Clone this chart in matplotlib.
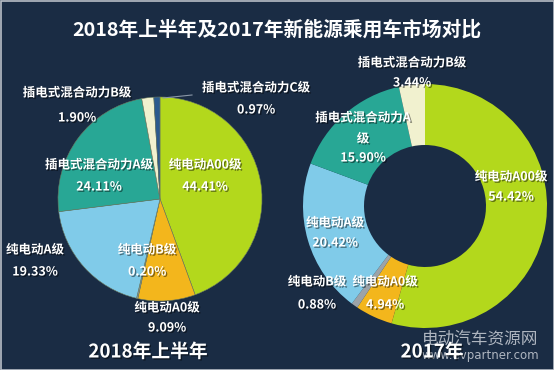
import matplotlib
matplotlib.use("Agg")
import matplotlib.pyplot as plt
import matplotlib.patheffects as pe

plt.rcParams['font.family'] = ['Noto Sans CJK SC', 'DejaVu Sans']

# 2018 H1 share, clockwise from top
cats_2018 = ["纯电动A00级", "纯电动A0级", "纯电动B级", "纯电动A级",
             "插电式混合动力A级", "插电式混合动力B级", "插电式混合动力C级"]
vals_2018 = [44.41, 9.09, 0.20, 19.33, 24.11, 1.90, 0.97]

# 2017 share, clockwise from top
cats_2017 = ["纯电动A00级", "纯电动A0级", "纯电动B级", "纯电动A级",
             "插电式混合动力A级", "插电式混合动力B级"]
vals_2017 = [54.42, 4.94, 0.88, 20.42, 15.90, 3.44]

colors = {
    "纯电动A00级": "#b3d81c",
    "纯电动A0级": "#f3b61c",
    "纯电动B级": "#9ca3a8",
    "纯电动A级": "#80cbe9",
    "插电式混合动力A级": "#28a795",
    "插电式混合动力B级": "#f1f1cf",
    "插电式混合动力C级": "#2b5a8e",
}

BG = "#1a2c44"
W, H = 554, 370

fig = plt.figure(figsize=(W / 100, H / 100), dpi=100, facecolor=BG)
ax = fig.add_axes([0, 0, 1, 1])
ax.set_facecolor(BG)
ax.set_xlim(0, W)
ax.set_ylim(0, H)
ax.set_aspect("equal")
ax.axis("off")

# left: full pie
ax.pie(vals_2018, colors=[colors[c] for c in cats_2018], startangle=90,
       counterclock=False, center=(160, H - 199), radius=102,
       wedgeprops=dict(edgecolor="#6a7a60", linewidth=0.4))
# right: donut
ax.pie(vals_2017, colors=[colors[c] for c in cats_2017], startangle=90,
       counterclock=False, center=(425, H - 206), radius=122,
       wedgeprops=dict(width=61, edgecolor="none"))
ax.set_xlim(0, W)
ax.set_ylim(0, H)

shadow = [pe.withSimplePatchShadow(offset=(1, -1), shadow_rgbFace="black", alpha=0.45)]


def txt(x, y, s, size=9, color="white", weight="bold", effects=shadow, z=5):
    ax.text(x, H - y, s, ha="center", va="center", fontsize=size, color=color,
            fontweight=weight, path_effects=effects, zorder=z)


txt(277, 30, "2018年上半年及2017年新能源乘用车市场对比", size=14.2, effects=None)

# left labels
lbl_left = {
    "插电式混合动力B级": (77, 93, 118),
    "插电式混合动力C级": (256, 88, 110),
    "插电式混合动力A级": (99, 165, 187),
    "纯电动A00级": (205, 165, 187),
    "纯电动A级": (35, 250, 272),
    "纯电动B级": (147, 250, 272),
    "纯电动A0级": (167, 308, 328),
}
for c, v in zip(cats_2018, vals_2018):
    x, y1, y2 = lbl_left[c]
    txt(x, y1, c)
    txt(x, y2, f"{v:.2f}%")
ax.plot([163, 192], [H - 98, H - 95], color="#8a97a8", lw=0.8)

lbl_right = {
    "插电式混合动力B级": (412, 63, 83),
    "纯电动A00级": (511, 177, 197),
    "纯电动A级": (335, 223, 243),
    "纯电动B级": (317, 282, 305),
    "纯电动A0级": (385, 282, 305),
}
for c, v in zip(cats_2017, vals_2017):
    if c == "插电式混合动力A级":
        txt(363, 118, "插电式混合动力A")
        txt(363, 139, "级")
        txt(363, 158, f"{v:.2f}%")
        continue
    x, y1, y2 = lbl_right[c]
    txt(x, y1, c)
    txt(x, y2, f"{v:.2f}%")

# watermark (sits under the year caption, as in the source image)
ax.text(480, H - 339, "电动汽车资源网", ha="center", va="center", fontsize=12,
        color="#c9ced6", alpha=0.85, zorder=3)
ax.text(480, H - 355, "www.evpartner.com", ha="center", va="center", fontsize=8.5,
        color="#c9ced6", alpha=0.85, family="DejaVu Sans", zorder=3)

txt(148, 352, "2018年上半年", size=13.5, z=6)
txt(432, 352, "2017年", size=13.5, z=6)

# thin light frame
ax.add_patch(plt.Rectangle((0.5, 0.5), W - 1, H - 1, fill=False, edgecolor="#b8bec6", lw=1.2))

fig.savefig("out.png", dpi=100, facecolor=BG)
